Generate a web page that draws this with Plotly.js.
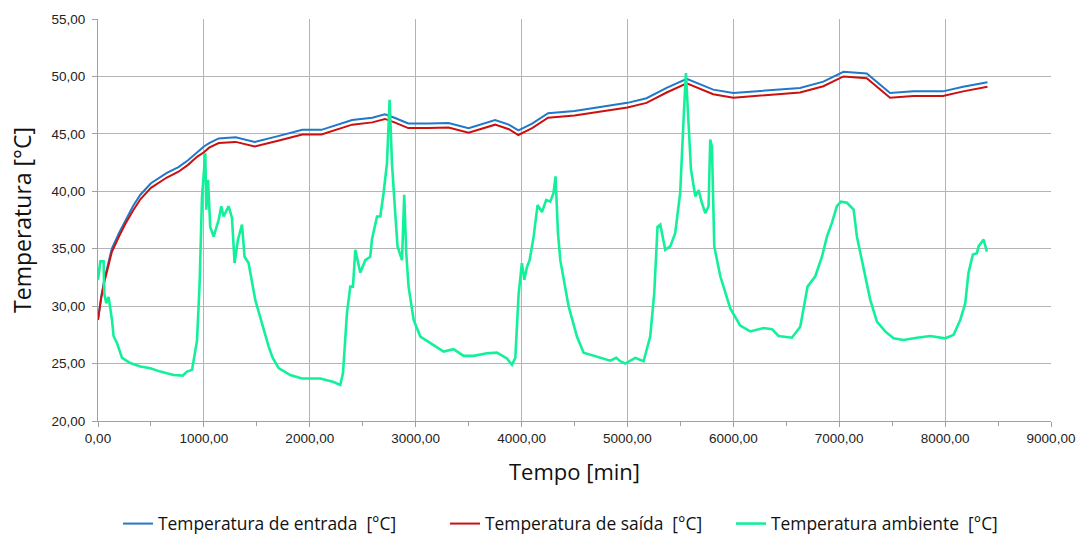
<!DOCTYPE html>
<html>
<head>
<meta charset="utf-8">
<script src="https://cdn.plot.ly/plotly-3.0.1.min.js"></script>
<style>html,body{margin:0;padding:0;background:#fff;}#chart{width:1079px;height:535px;}</style>
</head>
<body>
<div id="chart"></div>
<script>
// Temperatura de entrada [°C]
const entradaX = [0,30,60,100,130,200,260,330,400,500,650,760,850,935,1000,1050,1140,1300,1480,1700,1930,2110,2400,2590,2710,2800,2930,3120,3310,3500,3750,3880,3970,4100,4250,4500,4700,5000,5180,5370,5560,5810,6000,6320,6630,6850,7040,7260,7480,7700,7980,8170,8400];
const entradaY = [28.8,30.8,32.3,33.9,35.0,36.4,37.5,38.7,39.7,40.7,41.6,42.1,42.7,43.4,43.9,44.2,44.6,44.7,44.3,44.8,45.35,45.35,46.2,46.4,46.7,46.4,45.9,45.9,45.95,45.5,46.2,45.8,45.3,45.9,46.8,47.0,47.3,47.7,48.1,49.0,49.8,48.85,48.55,48.8,49.0,49.55,50.4,50.25,48.55,48.7,48.7,49.1,49.5];

// Temperatura de saída [°C]
const saidaX = [0,30,60,100,130,200,260,330,400,500,650,760,850,935,1000,1050,1140,1300,1480,1700,1930,2110,2400,2590,2710,2800,2930,3120,3310,3500,3750,3880,3970,4100,4250,4500,4700,5000,5180,5370,5560,5810,6000,6320,6630,6850,7040,7260,7480,7700,7980,8170,8400];
const saidaY = [28.8,30.7,32.1,33.6,34.7,36.1,37.2,38.3,39.3,40.3,41.2,41.7,42.3,43.0,43.4,43.8,44.2,44.3,43.9,44.4,44.95,44.95,45.8,46.0,46.3,46.0,45.5,45.5,45.55,45.1,45.8,45.4,44.9,45.5,46.4,46.6,46.9,47.3,47.7,48.6,49.4,48.45,48.15,48.4,48.6,49.15,50.0,49.85,48.15,48.3,48.3,48.7,49.1];

// Temperatura ambiente [°C]
const ambienteX = [0,22,53,59,78,100,132,147,179,227,305,400,494,588,714,800,840,888,935,960,982,997,1013,1023,1039,1060,1092,1139,1164,1186,1233,1265,1290,1322,1360,1384,1422,1485,1549,1611,1650,1706,1816,1926,2099,2225,2288,2314,2351,2383,2408,2430,2477,2524,2571,2587,2635,2666,2697,2729,2754,2776,2807,2829,2871,2892,2911,2933,2981,3044,3169,3264,3358,3453,3547,3673,3768,3862,3909,3941,3972,4003,4026,4051,4076,4114,4151,4193,4233,4271,4302,4321,4344,4366,4444,4523,4586,4712,4838,4894,4932,4979,5074,5152,5215,5253,5284,5310,5357,5404,5451,5498,5524,5536,5552,5577,5600,5641,5672,5703,5735,5766,5782,5798,5820,5877,5971,6065,6160,6285,6365,6427,6553,6632,6670,6701,6774,6837,6884,6931,6978,7016,7073,7136,7167,7230,7293,7356,7434,7513,7607,7734,7859,8001,8080,8143,8190,8221,8262,8300,8316,8363,8395];
const ambienteY = [32.3,33.9,33.9,31.1,30.25,30.8,28.8,27.4,26.8,25.5,25.05,24.75,24.6,24.3,24.0,23.95,24.3,24.45,27.0,32.0,39.5,41.0,43.3,38.4,41.0,36.9,36.05,37.5,38.7,37.8,38.7,37.7,33.75,35.8,37.1,34.3,33.75,30.55,28.5,26.5,25.5,24.6,24.0,23.7,23.7,23.4,23.15,24.2,29.4,31.7,31.7,34.9,32.9,34.0,34.3,35.8,37.8,37.8,39.85,42.45,47.97,42.45,38.1,35.2,34.0,39.7,34.6,31.7,28.8,27.35,26.6,26.05,26.25,25.67,25.67,25.9,25.95,25.45,24.9,25.5,31.0,33.75,32.3,33.4,34.0,36.05,38.8,38.2,39.25,39.1,39.85,41.3,36.35,34.0,30.0,27.35,25.95,25.6,25.25,25.5,25.2,25.0,25.5,25.2,27.35,31.1,36.9,37.1,34.9,35.2,36.35,39.85,45.65,47.4,50.3,45.65,41.9,39.55,40.1,39.0,38.1,38.7,44.5,43.9,35.2,32.6,29.8,28.3,27.8,28.1,28.0,27.4,27.25,28.2,30.0,31.7,32.6,34.3,36.05,37.25,38.7,39.1,39.0,38.4,36.05,33.45,30.55,28.65,27.8,27.2,27.05,27.25,27.4,27.2,27.5,28.8,30.25,32.9,34.5,34.6,35.2,35.8,34.75];

const seriesNames = ['Temperatura de entrada  [°C]', 'Temperatura de saída  [°C]', 'Temperatura ambiente  [°C]'];
const xTitle = 'Tempo [min]';
const yTitle = 'Temperatura [°C]';

const traces = [
  {x: entradaX, y: entradaY, name: seriesNames[0], mode: 'lines', line: {color: '#1f78c8', width: 2}, legendwidth: 282},
  {x: saidaX, y: saidaY, name: seriesNames[1], mode: 'lines', line: {color: '#cc1010', width: 2}, legendwidth: 241},
  {x: ambienteX, y: ambienteY, name: seriesNames[2], mode: 'lines', line: {color: '#14f09a', width: 2.6}, legendwidth: 240}
];

const layout = {
  width: 1079, height: 535,
  margin: {l: 98, r: 28, t: 19, b: 114, autoexpand: false},
  paper_bgcolor: '#fff', plot_bgcolor: '#fff',
  separators: ',.',
  showlegend: true,
  legend: {orientation: 'h', x: 118 / 1079, xanchor: 'left', xref: 'container',
           y: 0.021, yanchor: 'middle', yref: 'container',
           font: {family: 'Open Sans', size: 17.4, color: '#111'}, traceorder: 'normal'},
  xaxis: {
    range: [0, 9000], dtick: 1000, tick0: 0, tickformat: '.2f',
    showgrid: true, gridcolor: '#b4b4b4', gridwidth: 1,
    showline: true, linecolor: '#a0a0a0', linewidth: 1,
    ticks: 'outside', ticklen: 5, tickcolor: '#a0a0a0',
    minor: {dtick: 500, ticks: 'outside', ticklen: 4, tickcolor: '#a0a0a0', showgrid: false},
    tickfont: {family: 'Liberation Sans', size: 13.5, color: '#222'},
    zeroline: false, fixedrange: true, automargin: false,
    title: {text: xTitle, font: {family: 'Open Sans', size: 22, color: '#111'}, standoff: 19}
  },
  yaxis: {
    range: [20, 55], dtick: 5, tick0: 20, tickformat: '.2f',
    showgrid: true, gridcolor: '#b4b4b4', gridwidth: 1,
    showline: true, linecolor: '#a0a0a0', linewidth: 1,
    ticks: 'outside', ticklen: 5, tickcolor: '#a0a0a0', ticklabelstandoff: 4,
    tickfont: {family: 'Liberation Sans', size: 13.5, color: '#222'},
    zeroline: false, fixedrange: true, automargin: false,
    title: {text: yTitle, font: {family: 'Open Sans', size: 23, color: '#111'}, standoff: 13}
  }
};

Plotly.newPlot('chart', traces, layout, {displayModeBar: false, staticPlot: true});
</script>
</body>
</html>
